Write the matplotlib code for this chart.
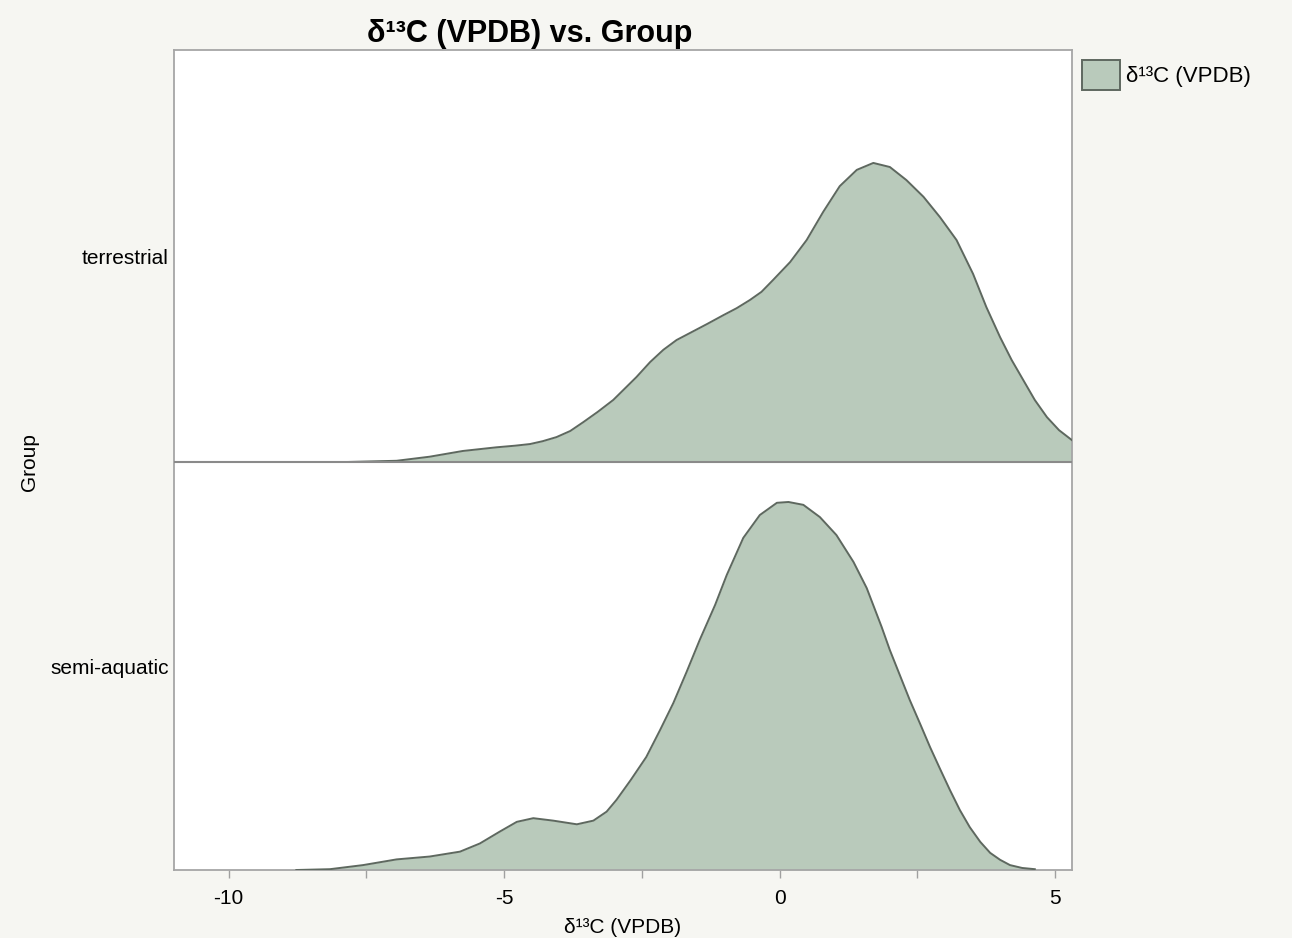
import matplotlib
matplotlib.use("Agg")
import matplotlib.pyplot as plt
from matplotlib.patches import Patch
from matplotlib.ticker import MultipleLocator

plt.rcParams['font.family'] = ['Liberation Sans', 'DejaVu Sans']

# ridge rows (bottom to top) and their labels
groups = ['semi-aquatic', 'terrestrial']

# density curves, heights as a fraction of one row
terr_x = [-7.86, -6.95, -6.35, -5.75, -5.14, -4.80, -4.53, -4.30, -4.05, -3.80,
          -3.56, -3.30, -3.02, -2.60, -2.35, -2.11, -1.87, -1.63, -1.32, -1.02,
          -0.78, -0.54, -0.33, -0.12, 0.19, 0.49, 0.79, 1.09, 1.40, 1.70,
          2.00, 2.30, 2.61, 2.91, 3.21, 3.51, 3.75, 4.00, 4.21, 4.42,
          4.63, 4.85, 5.07, 5.30]
terr_d = [0.000, 0.003, 0.013, 0.027, 0.036, 0.040, 0.044, 0.051, 0.061, 0.076,
          0.098, 0.123, 0.152, 0.208, 0.245, 0.275, 0.299, 0.316, 0.338, 0.360,
          0.377, 0.397, 0.417, 0.446, 0.490, 0.544, 0.613, 0.676, 0.716, 0.733,
          0.723, 0.691, 0.650, 0.600, 0.544, 0.461, 0.380, 0.306, 0.250, 0.201,
          0.152, 0.110, 0.078, 0.054]

semi_x = [-8.77, -8.16, -7.56, -6.95, -6.35, -5.80, -5.44, -5.08, -4.77, -4.47,
          -4.11, -3.68, -3.38, -3.14, -2.96, -2.70, -2.42, -2.17, -1.93, -1.69,
          -1.45, -1.17, -0.96, -0.66, -0.36, -0.05, 0.16, 0.43, 0.73, 1.03,
          1.34, 1.58, 1.85, 2.00, 2.18, 2.36, 2.55, 2.73, 2.91, 3.09,
          3.27, 3.45, 3.64, 3.82, 4.00, 4.18, 4.40, 4.63]
semi_d = [0.000, 0.002, 0.012, 0.026, 0.033, 0.045, 0.065, 0.094, 0.118, 0.127,
          0.121, 0.112, 0.121, 0.143, 0.172, 0.221, 0.277, 0.343, 0.409, 0.485,
          0.564, 0.650, 0.723, 0.814, 0.870, 0.900, 0.902, 0.895, 0.865, 0.821,
          0.755, 0.691, 0.596, 0.539, 0.478, 0.417, 0.358, 0.301, 0.248, 0.196,
          0.147, 0.105, 0.069, 0.042, 0.025, 0.012, 0.005, 0.002]

xticks = [-10, -5, 0, 5]

fill_col = '#b9cabb'
edge_col = '#5e685f'
bg_col = '#f6f6f2'

fig = plt.figure(figsize=(12.92, 9.38), dpi=100, facecolor=bg_col)
ax = fig.add_axes([174 / 1292, 68 / 938, 898 / 1292, 820 / 938])
ax.set_facecolor('white')

top_h = 412 / 408
for base, xs, ds in [(0, semi_x, semi_d), (1, terr_x, terr_d)]:
    ys = [base + d for d in ds]
    ax.fill_between(xs, base, ys, color=fill_col, lw=0, zorder=2)
    ax.plot(xs, ys, color=edge_col, lw=1.4, solid_joinstyle='round', zorder=3)

ax.axhline(1, color='#8a8a8a', lw=1.5, zorder=4)

ax.set_xlim(-10.99, 5.305)
ax.set_ylim(0, 1 + top_h)
ax.set_xticks(xticks)
ax.set_xticklabels([str(t) for t in xticks])
ax.xaxis.set_minor_locator(MultipleLocator(2.5))
ax.tick_params(axis='x', which='both', direction='out', length=6, width=1,
               color='#a0a0a0', labelsize=15, pad=8)
ax.set_yticks([0.5, 1 + top_h / 2])
ax.set_yticklabels(groups)
ax.tick_params(axis='y', length=0, labelsize=15, pad=4)

for s in ax.spines.values():
    s.set_color('#a6a6a6')
    s.set_linewidth(1.3)

ax.set_xlabel('δ¹³C (VPDB)', fontsize=15, labelpad=7)
fig.text(30 / 1292, 1 - 462 / 938, 'Group', rotation=90, fontsize=15,
         ha='center', va='center')
fig.text(530 / 1292, 1 - 34 / 938, 'δ¹³C (VPDB) vs. Group', fontsize=22,
         fontweight='bold', ha='center', va='center')

handle = Patch(facecolor=fill_col, edgecolor=edge_col, linewidth=1.4)
fig.legend([handle], ['δ¹³C (VPDB)'], loc='upper left',
           bbox_to_anchor=(1082 / 1292, 1 - 60 / 938), frameon=False,
           fontsize=16, handlelength=1.7, handleheight=1.7, handletextpad=0.3,
           borderaxespad=0, borderpad=0)

plt.savefig('out.png', dpi=100, facecolor=bg_col)
